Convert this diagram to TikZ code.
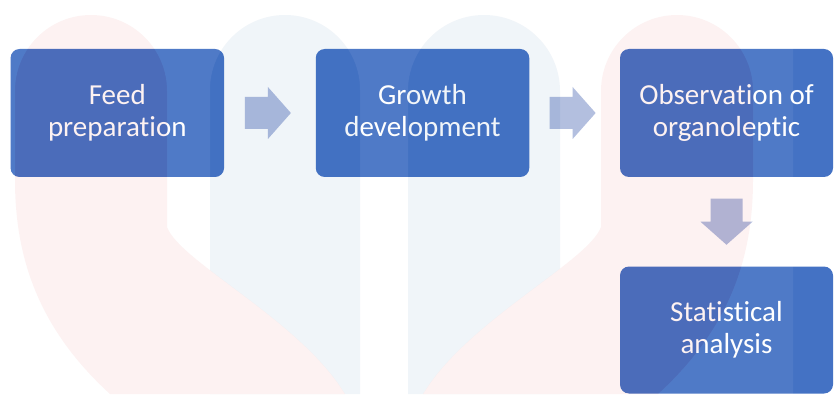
\documentclass[tikz,border=0pt]{standalone}
\usepackage{fontspec}
\setmainfont{Carlito}[Ligatures=NoCommon]
\usetikzlibrary{calc}

\definecolor{stepblue}{RGB}{68,114,196}
\definecolor{arrowfill}{RGB}{175,188,222}
\definecolor{washred}{RGB}{222,0,0}
\definecolor{washblue}{RGB}{43,105,167}

\tikzset{
  x=1pt, y=1pt,
  stagebox/.style={rectangle, rounded corners=9pt, fill=stepblue, draw=none,
    minimum width=213.5pt, minimum height=128pt, inner sep=0pt,
    text=white, align=center, font=\fontsize{29}{32}\selectfont},
  pics/blockarrow/.style={code={
    \fill[arrowfill] (-23,-16) -- (0,-16) -- (0,-26) -- (23,0) -- (0,26)
      -- (0,16) -- (-23,16) -- cycle;}},
  % background emblem: two red hooks and two blue pillars
  redleft/.style={insert path={(15,214) -- (15,303)
    arc[start angle=180, end angle=0, radius=76] -- (167,167)
    .. controls (180,132) and (300,74) .. (345,0) -- (110,0)
    .. controls (40,64) and (15,134) .. (15,214) -- cycle}},
  redright/.style={insert path={(753,214) -- (753,303)
    arc[start angle=0, end angle=180, radius=76] -- (601,167)
    .. controls (588,132) and (468,74) .. (423,0) -- (658,0)
    .. controls (728,64) and (753,134) .. (753,214) -- cycle}},
  blueone/.style={insert path={(210,0) -- (210,304)
    arc[start angle=180, end angle=0, radius=75] -- (360,0) -- cycle}},
  bluetwo/.style={insert path={(408,0) -- (408,303)
    arc[start angle=180, end angle=0, radius=76] -- (560,0) -- cycle}},
}

\begin{document}
\begin{tikzpicture}
  \useasboundingbox (0,0) rectangle (835,394);
  \fill[white] (0,0) rectangle (835,394);

  % process steps
  \node[stagebox] (b1) at (117.3,281) {Feed\\preparation};
  \node[stagebox] (b2) at (422.5,281) {Growth\\development};
  \node[stagebox, minimum width=213pt] (b3) at (726.5,281) {Observation of\\organoleptic};
  \node[stagebox, minimum width=213pt, minimum height=127pt] (b4) at (726.5,64) {Statistical\\analysis};

  % block arrows between the steps
  \coordinate (a1) at ($(b1.east)!0.5!(b2.west)+(-2,0)$);
  \coordinate (a2) at ($(b2.east)!0.5!(b3.west)+(-2,0)$);
  \coordinate (a3) at ($(b3.south)!0.5!(b4.north)$);
  \pic at (a1) {blockarrow};
  \pic at (a2) {blockarrow};
  \pic[rotate=-90] at (a3) {blockarrow};

  % faint emblem laid over everything
  \fill[white, fill opacity=0.06, even odd rule, redleft, redright, blueone, bluetwo]
    (0,0) rectangle (793,394);
  \begin{scope}[even odd rule]
    \clip[redleft, redright] (0,0) rectangle (835,394);
    \fill[washblue, fill opacity=0.065, blueone];
    \fill[washblue, fill opacity=0.065, bluetwo];
  \end{scope}
  \fill[washred, fill opacity=0.05, redleft];
  \fill[washred, fill opacity=0.05, redright];
\end{tikzpicture}
\end{document}
